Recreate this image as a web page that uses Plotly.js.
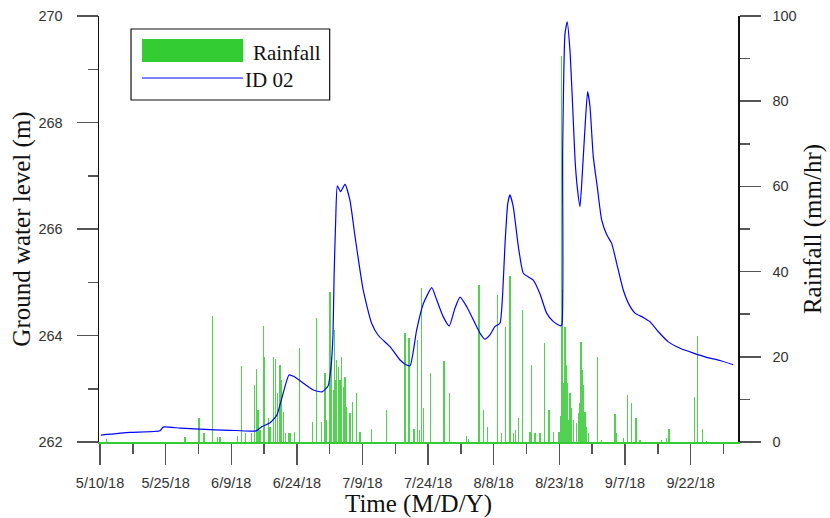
<!DOCTYPE html>
<html>
<head>
<meta charset="utf-8">
<script src="https://cdn.plot.ly/plotly-3.0.1.min.js"></script>
<style>html,body{margin:0;padding:0;background:#fff;}#chart{width:830px;height:518px;}</style>
</head>
<body>
<div id="chart"></div>
<script>
// Groundwater level, ID 02 (m)
const levelTime = [
"2018-05-10 05:00","2018-05-16 21:00","2018-05-23 17:00","2018-05-24 10:00","2018-05-28 07:00",
"2018-06-01 21:00","2018-06-08 17:00","2018-06-14 16:00","2018-06-16 01:00","2018-06-17 21:00",
"2018-06-19 11:00","2018-06-20 14:00","2018-06-22 05:00","2018-06-23 08:00","2018-06-25 10:00",
"2018-06-27 16:00","2018-06-29 18:00","2018-07-01 03:00","2018-07-01 19:00","2018-07-02 06:00",
"2018-07-02 12:00","2018-07-02 21:00","2018-07-03 06:00","2018-07-04 00:00","2018-07-05 00:00",
"2018-07-06 03:00","2018-07-07 07:00","2018-07-09 04:00","2018-07-11 02:00","2018-07-12 15:00",
"2018-07-15 07:00","2018-07-17 14:00","2018-07-18 23:00","2018-07-19 21:00","2018-07-21 09:00",
"2018-07-22 22:00","2018-07-24 20:00","2018-07-25 23:00","2018-07-27 11:00","2018-07-28 20:00",
"2018-07-30 03:00","2018-07-31 07:00","2018-08-01 20:00","2018-08-03 17:00","2018-08-04 21:00",
"2018-08-06 00:00","2018-08-07 03:00","2018-08-08 07:00","2018-08-09 10:00","2018-08-10 01:00",
"2018-08-10 14:00","2018-08-11 05:00","2018-08-11 17:00","2018-08-12 11:00","2018-08-13 15:00",
"2018-08-14 18:00","2018-08-15 22:00","2018-08-17 01:00","2018-08-18 14:00","2018-08-20 02:00",
"2018-08-21 15:00","2018-08-23 07:00","2018-08-23 14:00","2018-08-23 18:00","2018-08-24 07:00",
"2018-08-24 19:00","2018-08-25 10:00","2018-08-26 01:00","2018-08-26 14:00","2018-08-27 02:00",
"2018-08-27 17:00","2018-08-28 06:00","2018-08-28 21:00","2018-08-29 11:00","2018-08-30 00:00",
"2018-08-30 18:00","2018-08-31 16:00","2018-09-01 16:00","2018-09-02 20:00","2018-09-03 23:00",
"2018-09-05 02:00","2018-09-06 15:00","2018-09-08 00:00","2018-09-09 07:00","2018-09-11 04:00",
"2018-09-12 17:00","2018-09-14 15:00","2018-09-16 22:00","2018-09-19 14:00","2018-09-22 15:00",
"2018-09-25 16:00","2018-09-28 17:00","2018-10-01 18:00"
];
const levelValue = [
262.13,262.18,262.21,262.28,262.26,
262.24,262.22,262.21,262.29,262.36,
262.51,262.83,263.26,263.23,263.11,
262.98,262.94,263.05,263.40,264.00,
265.10,266.17,266.81,266.70,266.84,
266.54,265.86,264.85,264.23,264.00,
263.79,263.54,263.45,263.43,264.10,
264.60,264.90,264.67,264.35,264.18,
264.51,264.72,264.54,264.23,264.04,
263.93,264.01,264.17,264.23,264.79,
265.73,266.48,266.64,266.42,265.67,
265.17,265.10,265.04,264.78,264.42,
264.26,264.18,264.20,267.43,269.67,
269.89,269.36,268.30,267.30,266.79,
266.42,267.05,267.92,268.58,268.30,
267.36,266.79,266.17,265.89,265.73,
265.36,264.85,264.57,264.42,264.34,
264.26,264.07,263.88,263.76,263.67,
263.59,263.53,263.45
];

// Rainfall (mm/hr)
const rainTime = [
"2018-05-11 13:00","2018-05-29 10:00","2018-06-01 15:00","2018-06-02 18:00","2018-06-04 16:00",
"2018-06-05 19:00","2018-06-06 10:00","2018-06-10 09:00","2018-06-11 09:00","2018-06-12 07:00",
"2018-06-13 16:00","2018-06-14 06:00","2018-06-14 17:00","2018-06-15 03:00","2018-06-15 14:00",
"2018-06-16 10:00","2018-06-16 15:00","2018-06-17 11:00","2018-06-17 21:00","2018-06-18 15:00",
"2018-06-19 04:00","2018-06-19 13:00","2018-06-20 03:00","2018-06-20 13:00","2018-06-20 22:00",
"2018-06-21 11:00","2018-06-22 05:00","2018-06-22 14:00","2018-06-23 10:00","2018-06-24 13:00",
"2018-06-27 15:00","2018-06-28 13:00","2018-06-29 16:00","2018-06-30 10:00","2018-06-30 20:00",
"2018-07-01 14:00","2018-07-01 23:00","2018-07-02 08:00","2018-07-02 13:00","2018-07-02 17:00",
"2018-07-03 02:00","2018-07-03 11:00","2018-07-03 21:00","2018-07-04 06:00","2018-07-04 15:00",
"2018-07-05 00:00","2018-07-05 09:00","2018-07-06 03:00","2018-07-06 16:00","2018-07-07 16:00",
"2018-07-08 10:00","2018-07-11 02:00","2018-07-14 13:00","2018-07-18 17:00","2018-07-19 15:00",
"2018-07-20 18:00","2018-07-21 15:00","2018-07-22 00:00","2018-07-22 13:00","2018-07-22 22:00",
"2018-07-24 14:00","2018-07-27 15:00","2018-07-28 20:00","2018-08-01 20:00","2018-08-02 04:00",
"2018-08-04 15:00","2018-08-05 15:00","2018-08-06 15:00","2018-08-08 22:00","2018-08-09 20:00",
"2018-08-10 18:00","2018-08-11 17:00","2018-08-12 11:00","2018-08-13 00:00","2018-08-13 15:00",
"2018-08-14 13:00","2018-08-16 07:00","2018-08-16 16:00","2018-08-17 10:00","2018-08-18 14:00",
"2018-08-19 13:00","2018-08-20 15:00","2018-08-21 15:00","2018-08-22 22:00","2018-08-23 07:00",
"2018-08-23 13:00","2018-08-23 18:00","2018-08-23 22:00","2018-08-24 07:00","2018-08-24 12:00",
"2018-08-24 18:00","2018-08-25 01:00","2018-08-25 10:00","2018-08-25 17:00","2018-08-26 04:00",
"2018-08-26 23:00","2018-08-27 08:00","2018-08-27 17:00","2018-08-27 23:00","2018-08-28 04:00",
"2018-08-28 11:00","2018-08-28 21:00","2018-08-29 06:00","2018-08-29 16:00","2018-08-31 17:00",
"2018-09-01 16:00","2018-09-04 17:00","2018-09-04 23:00","2018-09-06 15:00","2018-09-07 15:00",
"2018-09-08 13:00","2018-09-09 12:00","2018-09-10 10:00","2018-09-15 09:00","2018-09-16 13:00",
"2018-09-17 01:00","2018-09-22 20:00","2018-09-23 15:00","2018-09-24 16:00","2018-09-25 16:00"
];
const rainValue = [
0.7,1.2,5.7,2.1,29.6,
1.2,1.2,1.4,17.9,2.0,
2.0,13.4,17.1,7.5,2.8,
27.2,20.0,5.6,3.6,20.0,
19.6,11.4,18.1,14.6,7.1,
2.0,2.0,2.0,2.4,22.0,
4.8,29.0,4.8,16.1,5.2,
35.3,20.0,12.2,26.3,14.6,
19.2,17.7,14.6,20.0,13.0,
15.3,8.3,6.7,9.5,11.4,
2.4,3.1,7.5,25.5,24.3,
3.0,24.0,2.8,36.1,7.9,
16.1,19.1,11.4,1.5,0.8,
36.9,7.5,3.6,34.5,2.0,
27.1,39.0,2.0,2.8,5.6,
31.0,2.4,18.1,2.0,2.0,
23.2,7.5,2.4,2.4,6.0,
90.5,36.0,13.8,27.0,18.0,
13.8,5.2,11.5,8.0,5.2,
4.4,6.7,9.1,23.5,17.0,
13.4,7.1,3.6,2.0,20.0,
0.5,6.5,2.0,0.9,11.0,
9.1,5.6,0.5,0.5,0.9,
3.1,10.5,24.9,3.1,0.3
];

const xTick0 = "2018-05-10";
const DAY = 86400000;

const tickFont = {family: "Liberation Sans, Arial, sans-serif", size: 14.5, color: "#333"};
const titleFont = {family: "Liberation Serif, Times New Roman, serif", size: 25, color: "#111"};
const legendFont = {family: "Liberation Serif, Times New Roman, serif", size: 21, color: "#111"};
const rainColor = "#33cc33";
const lineColor = "#0000ff";
const tickColor = "#555";

const traces = [
  {
    type: "bar", name: "Rainfall", x: rainTime, y: rainValue, yaxis: "y",
    width: 0.28 * DAY,
    marker: {color: rainColor, line: {width: 0}},
    opacity: 0.85,
    hoverinfo: "x+y"
  },
  {
    type: "scatter", mode: "lines", name: "ID 02", x: levelTime, y: levelValue, yaxis: "y2",
    line: {color: lineColor, width: 1.2, shape: "spline", smoothing: 0.5}
  }
];

const layout = {
  width: 830, height: 518,
  margin: {l: 99, r: 92, t: 16, b: 76, pad: 0},
  paper_bgcolor: "#fff", plot_bgcolor: "#fff",
  showlegend: false,
  bargap: 0,
  xaxis: {
    type: "date",
    range: ["2018-05-09 18:30", "2018-10-02 20:00"],
    tick0: xTick0, dtick: 15 * DAY, tickformat: "%-m/%-d/%y",
    ticks: "outside", ticklen: 21, tickwidth: 1.5, tickcolor: tickColor,
    minor: {tick0: xTick0, dtick: 7.5 * DAY, ticks: "outside", ticklen: 10, tickwidth: 1.5, tickcolor: tickColor},
    showgrid: false, zeroline: false,
    showline: true, linecolor: rainColor, linewidth: 2,
    tickfont: tickFont, ticklabelstandoff: 6,
    title: {text: "Time (M/D/Y)", font: titleFont, standoff: 0},
    automargin: false
  },
  yaxis: {
    side: "right",
    range: [0, 100], dtick: 20, tick0: 0,
    ticks: "outside", ticklen: 21, tickwidth: 1.5, tickcolor: tickColor,
    minor: {dtick: 10, ticks: "outside", ticklen: 10, tickwidth: 1.5, tickcolor: tickColor},
    showgrid: false, zeroline: false,
    showline: true, linecolor: "#111", linewidth: 1.5,
    tickfont: tickFont, ticklabelstandoff: 9,
    title: {text: "Rainfall (mm/hr)", font: titleFont, standoff: 8},
    automargin: false
  },
  yaxis2: {
    overlaying: "y", side: "left",
    range: [262, 270], dtick: 2, tick0: 262,
    ticks: "outside", ticklen: 21, tickwidth: 1.5, tickcolor: tickColor,
    minor: {dtick: 1, ticks: "outside", ticklen: 10, tickwidth: 1.5, tickcolor: tickColor},
    showgrid: false, zeroline: false,
    showline: true, linecolor: "#111", linewidth: 1.5,
    tickfont: tickFont, ticklabelstandoff: 11,
    title: {text: "Ground water level (m)", font: titleFont, standoff: 0},
    automargin: false
  },
  shapes: [
    {type: "rect", xref: "paper", yref: "paper", x0: 0.0501, x1: 0.361, y0: 0.8028, y1: 0.9695,
     line: {color: "#111", width: 1.2}, fillcolor: "rgba(255,255,255,1)", layer: "above"},
    {type: "rect", xref: "paper", yref: "paper", x0: 0.0673, x1: 0.2254, y0: 0.892, y1: 0.946,
     line: {width: 0}, fillcolor: rainColor, layer: "above"},
    {type: "line", xref: "paper", yref: "paper", x0: 0.0673, x1: 0.2254, y0: 0.8545, y1: 0.8545,
     line: {color: lineColor, width: 1.2}, layer: "above"}
  ],
  annotations: [
    {xref: "paper", yref: "paper", x: 0.238, y: 0.914, xanchor: "left", yanchor: "middle",
     text: "Rainfall", showarrow: false, font: legendFont},
    {xref: "paper", yref: "paper", x: 0.226, y: 0.850, xanchor: "left", yanchor: "middle",
     text: "ID 02", showarrow: false, font: legendFont}
  ]
};

Plotly.newPlot("chart", traces, layout, {displayModeBar: false, staticPlot: true});
</script>
</body>
</html>
